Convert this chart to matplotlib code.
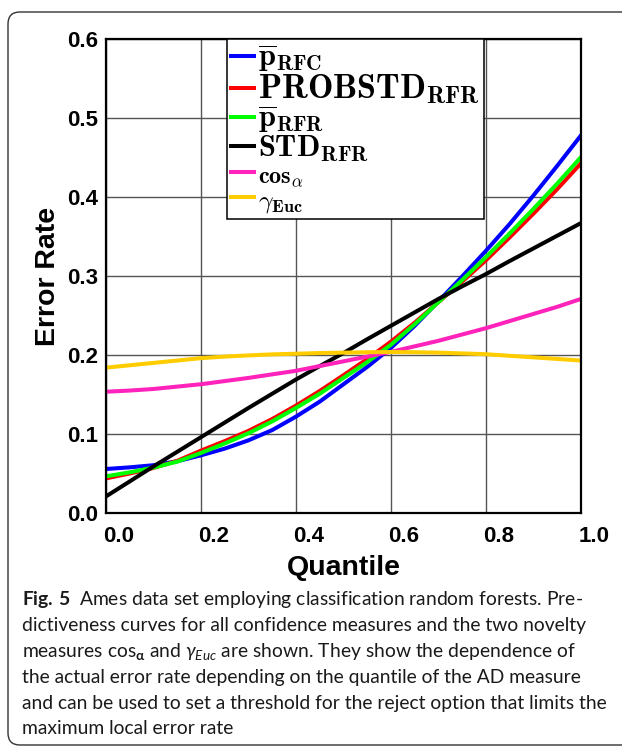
import matplotlib
matplotlib.use("Agg")
import matplotlib.pyplot as plt
from matplotlib.patches import FancyBboxPatch
from matplotlib.transforms import ScaledTranslation

# data (every 0.05 quantile)
quantile = [0.00, 0.05, 0.10, 0.15, 0.20, 0.25, 0.30, 0.35, 0.40, 0.45, 0.50,
            0.55, 0.60, 0.65, 0.70, 0.75, 0.80, 0.85, 0.90, 0.95, 1.00]
p_rfc = [0.0557, 0.0578, 0.0605, 0.0655, 0.0730, 0.0815, 0.0920, 0.1050, 0.1220, 0.1410, 0.1630,
         0.1850, 0.2090, 0.2370, 0.2680, 0.2995, 0.3320, 0.3660, 0.4020, 0.4395, 0.4780]
probstd_rfr = [0.0438, 0.0500, 0.0570, 0.0660, 0.0790, 0.0910, 0.1040, 0.1190, 0.1360, 0.1545, 0.1745,
               0.1950, 0.2170, 0.2410, 0.2670, 0.2930, 0.3200, 0.3490, 0.3790, 0.4100, 0.4427]
p_rfr = [0.0464, 0.0515, 0.0575, 0.0650, 0.0760, 0.0880, 0.1010, 0.1160, 0.1330, 0.1510, 0.1710,
         0.1910, 0.2130, 0.2390, 0.2670, 0.2950, 0.3240, 0.3540, 0.3850, 0.4170, 0.4505]
std_rfr = [0.021, 0.040, 0.059, 0.0775, 0.096, 0.1145, 0.133, 0.151, 0.169, 0.186, 0.2025,
           0.220, 0.237, 0.254, 0.271, 0.287, 0.3025, 0.319, 0.335, 0.351, 0.367]
cos_alpha = [0.1535, 0.155, 0.157, 0.160, 0.163, 0.167, 0.171, 0.1755, 0.180, 0.186, 0.192,
             0.198, 0.204, 0.211, 0.218, 0.226, 0.234, 0.243, 0.252, 0.261, 0.271]
gamma_euc = [0.184, 0.187, 0.190, 0.193, 0.196, 0.198, 0.1995, 0.2008, 0.2016, 0.2025, 0.203,
             0.2035, 0.2038, 0.2035, 0.203, 0.202, 0.201, 0.199, 0.197, 0.195, 0.193]

labels = [r'$\overline{\mathbf{p}}_{\mathbf{RFC}}$',
          r'$\mathbf{PROBSTD}_{\mathbf{RFR}}$',
          r'$\overline{\mathbf{p}}_{\mathbf{RFR}}$',
          r'$\mathbf{STD}_{\mathbf{RFR}}$',
          r'$\mathbf{cos}_{\alpha}$',
          r'$\gamma_{\mathbf{Euc}}$']
colors = ['#0000ff', '#ff0000', '#00ff00', '#000000', '#ff22bb', '#ffcc00']
legend_sizes = [22, 24.5, 22, 22, 17.5, 18.5]

xticks = [0.0, 0.2, 0.4, 0.6, 0.8, 1.0]
yticks = [0.0, 0.1, 0.2, 0.3, 0.4, 0.5, 0.6]

caption = [
    r"$\mathbf{Fig.\,5}$  Ames data set employing classification random forests. Pre-",
    "dictiveness curves for all confidence measures and the two novelty",
    r"measures cos$_{\mathbf{\alpha}}$ and $\mathit{\gamma_{Euc}}$ are shown. They show the dependence of",
    "the actual error rate depending on the quantile of the AD measure",
    "and can be used to set a threshold for the reject option that limits the",
    "maximum local error rate",
]

plt.rcParams['mathtext.fontset'] = 'custom'
plt.rcParams['mathtext.rm'] = 'Lato'
plt.rcParams['mathtext.it'] = 'Lato:italic'
plt.rcParams['mathtext.bf'] = 'Lato:bold'

fig = plt.figure(figsize=(6.22, 7.49), dpi=100)
ax = fig.add_axes([106 / 622, 1 - 513 / 749, 475 / 622, 474 / 749])

series = [p_rfc, probstd_rfr, p_rfr, std_rfr, cos_alpha, gamma_euc]
for ys, c, lab in zip(series, colors, labels):
    ax.plot(quantile, ys, color=c, lw=2.9, label=lab)

ax.set_xlim(0, 1)
ax.set_ylim(0, 0.6)
ax.set_xticks(xticks)
ax.set_yticks(yticks)
ax.set_xticklabels(['%.1f' % v for v in xticks])
ax.set_yticklabels(['%.1f' % v for v in yticks])
ax.grid(True, color='#555555', lw=1)
ax.set_axisbelow(True)
for s in ax.spines.values():
    s.set_linewidth(1.6)
ax.tick_params(length=0, labelsize=16)
ax.tick_params(axis='y', pad=6)
ax.tick_params(axis='x', pad=9)
for lab in ax.get_xticklabels() + ax.get_yticklabels():
    lab.set_fontfamily('Liberation Sans')
    lab.set_fontweight('bold')
for lab in ax.get_xticklabels():
    lab.set_transform(lab.get_transform() + ScaledTranslation(0.13, 0, fig.dpi_scale_trans))

ax.set_xlabel('Quantile', fontsize=20.5, fontweight='bold', family='Liberation Sans', labelpad=6)
ax.set_ylabel('Error Rate', fontsize=20.5, fontweight='bold', family='Liberation Sans', labelpad=4)

leg = ax.legend(loc='upper left', bbox_to_anchor=(0.255, 1.0), borderaxespad=0,
                fancybox=False, framealpha=1, edgecolor='black',
                handlelength=0.75, handletextpad=0.15, labelspacing=-0.08,
                borderpad=0.12, fontsize=22)
leg.get_frame().set_linewidth(1.1)
for t, sz in zip(leg.get_texts(), legend_sizes):
    t.set_math_fontfamily('cm')
    t.set_fontsize(sz)

# caption
y0 = 600
for i, line in enumerate(caption):
    fig.text(22 / 622, 1 - (y0 + i * 25.8) / 749, line, fontsize=13.9, family='Lato',
             va='center', ha='left', color='#1a1a1a')

# rounded frame around figure + caption
box = FancyBboxPatch((0.08, 0.04), 7.0, 7.33, boxstyle='round,pad=0,rounding_size=0.12',
                     transform=fig.dpi_scale_trans, fill=False, edgecolor='#333333', lw=1)
fig.patches.append(box)

fig.savefig('out.png', dpi=100)
